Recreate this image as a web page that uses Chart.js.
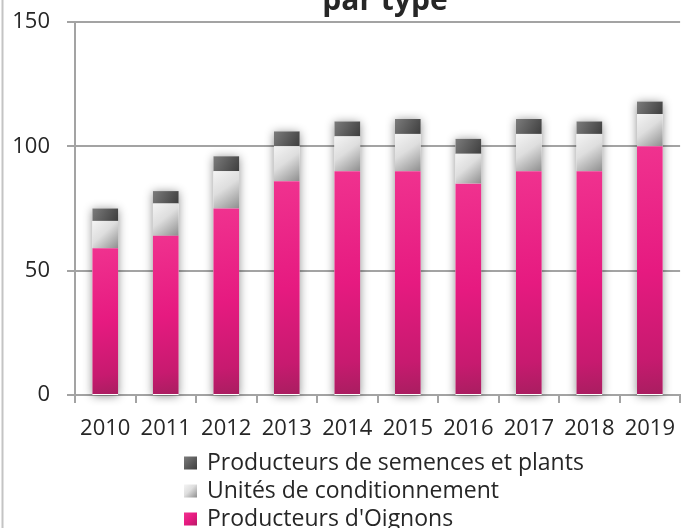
<!DOCTYPE html>
<html>
<head>
<meta charset="utf-8">
<script src="https://cdn.jsdelivr.net/npm/chart.js@4/dist/chart.umd.min.js"></script>
<style>
html,body{margin:0;padding:0;background:#fff;}
#wrap{position:relative;width:688px;height:528px;overflow:hidden;}
canvas{display:block;}
</style>
</head>
<body>
<div id="wrap"><canvas id="c" width="688" height="528"></canvas></div>
<script>
// ---- data ----
const years = ['2010','2011','2012','2013','2014','2015','2016','2017','2018','2019'];
const oignons = [59, 64, 75, 86, 90, 90, 85, 90, 90, 100];
const conditionnement = [11, 13, 15, 14, 14, 15, 12, 15, 15, 13];
const semences = [5, 5, 6, 6, 6, 6, 6, 6, 5, 5];
const yTicks = [0, 50, 100, 150];
const seriesNames = ["Producteurs d'Oignons", "Unités de conditionnement", "Producteurs de semences et plants"];
const titleText = 'par type';

// ---- styling ----
const FONT = '"Open Sans", Lato, sans-serif';
const FS = 22;
const LFS = 23;
const TXT = '#262626';
const GRID = '#a3a3a3';
const BAR_FRAC = 0.424;
const stops = [
  [[0, '#f0328f'], [0.5, '#e61a80'], [0.85, '#c71a6f'], [1, '#a81e60']],
  [[0, '#f4f4f4'], [0.45, '#dedede'], [1, '#8e8e8e']],
  [[0, '#7c7c7c'], [1, '#3e3e3e']]
];
const series = [oignons, conditionnement, semences];

function makeGrad(ctx, x0, y0, x1, y1, st) {
  const g = ctx.createLinearGradient(x0, y0, x1, y1);
  st.forEach(s => g.addColorStop(s[0], s[1]));
  return g;
}

function barBox(chart, ds, i) {
  const xs = chart.scales.x, ys = chart.scales.y;
  let base = 0;
  for (let k = 0; k < ds; k++) base += series[k][i];
  const top = base + series[ds][i];
  const cx = xs.getPixelForValue(i);
  const w = (xs.width / years.length) * BAR_FRAC;
  return {left: cx - w / 2, right: cx + w / 2, top: ys.getPixelForValue(top), bottom: ys.getPixelForValue(base)};
}

function bg(ds) {
  return function (c) {
    const chart = c.chart;
    if (c.type !== 'data' || !chart.chartArea || !chart.scales.y) return stops[ds][0][1];
    const b = barBox(chart, ds, c.dataIndex);
    return makeGrad(chart.ctx, b.left, b.top, b.right, b.bottom, stops[ds]);
  };
}

const framePlugin = {
  id: 'frame',
  beforeDraw(chart) {
    const ctx = chart.ctx;
    ctx.save();
    ctx.fillStyle = '#c4c4c4';
    ctx.fillRect(1.5, 0, 2, chart.height);
    ctx.restore();
  }
};

const shadowPlugin = {
  id: 'barShadow',
  beforeDatasetsDraw(chart) {
    const ctx = chart.ctx;
    ctx.save();
    ctx.shadowColor = 'rgba(0,0,0,0.45)';
    ctx.shadowBlur = 10;
    ctx.shadowOffsetY = 1;
    ctx.fillStyle = '#ffffff';
    years.forEach((y, i) => {
      const top = barBox(chart, 2, i);
      const bot = barBox(chart, 0, i);
      ctx.fillRect(top.left, top.top, top.right - top.left, bot.bottom - top.top);
    });
    ctx.restore();
  }
};

const titleLegendPlugin = {
  id: 'titleLegend',
  afterDraw(chart) {
    const ctx = chart.ctx;
    ctx.save();
    // title (cut by the top edge as in the reference)
    ctx.font = 'bold 30px ' + FONT;
    ctx.fillStyle = TXT;
    ctx.textAlign = 'center';
    ctx.textBaseline = 'alphabetic';
    ctx.fillText(titleText, 385, 10);
    // legend, one item per line, reverse order
    ctx.font = LFS + 'px ' + FONT;
    ctx.textAlign = 'left';
    const boxX = 184, box = 13, textX = 207;
    const baselines = [469.5, 497.5, 525.5];
    [2, 1, 0].forEach((ds, row) => {
      const bl = baselines[row];
      const by = bl - box;
      ctx.fillStyle = makeGrad(ctx, boxX, by, boxX + box, by + box, stops[ds]);
      ctx.fillRect(boxX, by, box, box);
      ctx.fillStyle = TXT;
      ctx.fillText(seriesNames[ds], textX, bl);
    });
    ctx.restore();
  }
};

new Chart(document.getElementById('c'), {
  type: 'bar',
  data: {
    labels: years,
    datasets: series.map((d, k) => ({
      label: seriesNames[k],
      data: d,
      backgroundColor: bg(k),
      borderWidth: 0,
      barPercentage: BAR_FRAC,
      categoryPercentage: 1
    }))
  },
  options: {
    responsive: false,
    animation: false,
    devicePixelRatio: 1,
    layout: {padding: {top: 22, bottom: 90, left: 0, right: 0}},
    plugins: {legend: {display: false}, title: {display: false}, tooltip: {enabled: false}},
    scales: {
      x: {
        stacked: true,
        grid: {offset: true, drawOnChartArea: false, drawTicks: true, tickLength: 8, color: GRID, lineWidth: 2},
        border: {display: true, color: GRID, width: 2},
        ticks: {color: TXT, font: {family: FONT, size: FS}, padding: 13, maxRotation: 0, autoSkip: false},
        afterFit: s => { s.height = 43; }
      },
      y: {
        stacked: true,
        min: 0, max: 150,
        grid: {color: GRID, lineWidth: 2, tickLength: 8},
        border: {display: true, color: GRID, width: 2},
        ticks: {color: TXT, font: {family: FONT, size: FS}, padding: 17},
        afterBuildTicks: s => { s.ticks = yTicks.map(v => ({value: v})); },
        afterFit: s => { s.width = 75; s.paddingTop = 0; s.paddingBottom = 0; }
      }
    }
  },
  plugins: [framePlugin, shadowPlugin, titleLegendPlugin]
});
</script>
</body>
</html>
